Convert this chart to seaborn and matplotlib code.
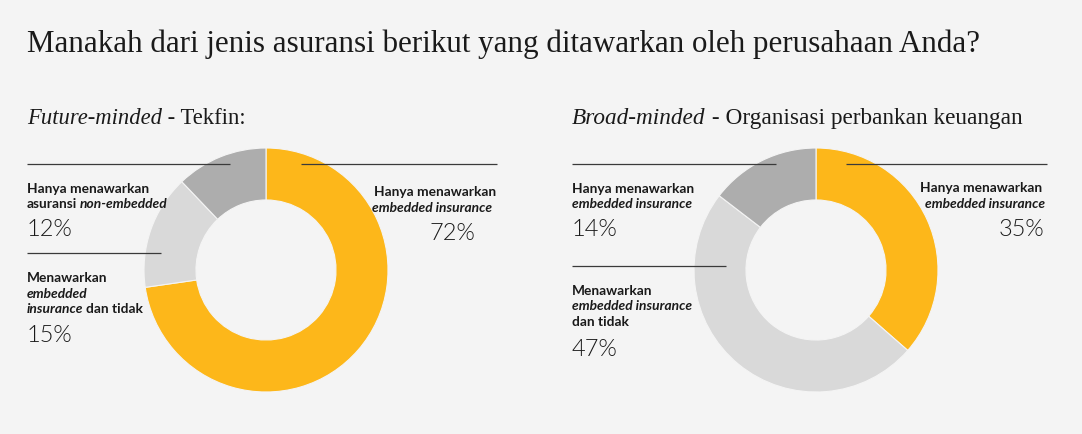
import matplotlib
matplotlib.use("Agg")
import matplotlib.pyplot as plt
import seaborn as sns

# ---- data ----
title = "Manakah dari jenis asuransi berikut yang ditawarkan oleh perusahaan Anda?"
left_sub_italic = "Future-minded"
left_sub_rest = " - Tekfin:"
right_sub_italic = "Broad-minded"
right_sub_rest = " - Organisasi perbankan keuangan"

categories = ["Hanya menawarkan embedded insurance",
              "Menawarkan embedded insurance dan tidak",
              "Hanya menawarkan asuransi non-embedded"]
left_values = [72, 15, 12]
right_values = [35, 47, 14]
left_pct = ["72%", "15%", "12%"]
right_pct = ["35%", "47%", "14%"]

BG = "#F4F4F4"
colors = ["#FDB71A", "#D9D9D9", "#ADADAD"]
TXT = "#1A1A1A"
LINE = "#3A3A3A"

W, H = 1082, 434
sns.set_theme(style="white", rc={"figure.facecolor": BG, "axes.facecolor": BG,
                                  "savefig.facecolor": BG})
SERIF = ["Liberation Serif", "DejaVu Serif"]
SANS = ["Lato", "DejaVu Sans"]

fig = plt.figure(figsize=(W / 100, H / 100), dpi=100)


def donut(cx, cy, r, values):
    ra = r * 1.02
    ax = fig.add_axes([(cx - ra) / W, (H - cy - ra) / H, 2 * ra / W, 2 * ra / H])
    ax.pie(values, colors=colors, startangle=90, counterclock=False,
           wedgeprops=dict(width=0.426, edgecolor=BG, linewidth=0.8))
    ax.set_xlim(-1.02, 1.02)
    ax.set_ylim(-1.02, 1.02)
    ax.set_axis_off()
    return ax


donut(266, 270, 122, left_values)
donut(816, 270, 122, right_values)

ov = fig.add_axes([0, 0, 1, 1])
ov.patch.set_alpha(0)
ov.set_xlim(0, W)
ov.set_ylim(H, 0)
ov.set_axis_off()

renderer = fig.canvas.get_renderer()


def mixed(x, y, parts, **kw):
    texts = []
    for part in parts:
        s, style = part[0], part[1]
        gap = part[2] if len(part) > 2 else 0
        x += gap
        t = ov.text(x, y, s, fontstyle=style, va="baseline", ha="left", **kw)
        bb = t.get_window_extent(renderer)
        x = ov.transData.inverted().transform((bb.x1, bb.y0))[0]
        texts.append(t)
    return texts


def fit_mixed(x, y, parts, width, size0, **kw):
    texts = mixed(x, y, parts, fontsize=size0, **kw)
    x1 = texts[-1].get_window_extent(renderer).x1
    size = size0 * width / (x1 - x)
    for t in texts:
        t.remove()
    return mixed(x, y, parts, fontsize=size, **kw)


def hline(x0, x1, y):
    ov.plot([x0, x1], [y, y], color=LINE, lw=0.9, solid_capstyle="butt")


# title & subtitles
fit_mixed(27, 52, [(title, "normal")], 950, 22, family=SERIF, color=TXT)
fit_mixed(27, 124, [(left_sub_italic, "italic"), (left_sub_rest, "normal")], 219, 15,
          family=SERIF, color=TXT)
fit_mixed(572, 124, [(right_sub_italic, "italic"), (right_sub_rest, "normal")], 453, 15,
          family=SERIF, color=TXT)

LAB = dict(family=SANS, fontsize=9.9, fontweight="bold", color=TXT)
PCT = dict(family=SANS, fontsize=17, fontweight=300, color=TXT)

# ---- left donut annotations ----
hline(27, 230, 164)
mixed(27, 193, [("Hanya menawarkan", "normal")], **LAB)
mixed(27, 208.5, [("asuransi", "normal"), ("non-embedded", "italic", 2.2)], **LAB)
ov.text(27, 236.5, left_pct[2], va="baseline", ha="left", **PCT)

hline(27, 161, 252.5)
mixed(27, 282.5, [("Menawarkan", "normal")], **LAB)
mixed(27, 297.5, [("embedded", "italic")], **LAB)
mixed(27, 313, [("insurance", "italic"), ("dan tidak", "normal", 2.2)], **LAB)
ov.text(27, 342.5, left_pct[1], va="baseline", ha="left", **PCT)

hline(301, 497, 164)
ov.text(496, 196.5, "Hanya menawarkan", va="baseline", ha="right", **LAB)
ov.text(492, 212.5, "embedded insurance", va="baseline", ha="right", style="italic", **LAB)
ov.text(475, 240.5, left_pct[0], va="baseline", ha="right", **PCT)

# ---- right donut annotations ----
hline(572, 776, 164)
mixed(572, 193, [("Hanya menawarkan", "normal")], **LAB)
mixed(572, 208.5, [("embedded insurance", "italic")], **LAB)
ov.text(572, 236, right_pct[2], va="baseline", ha="left", **PCT)

hline(572, 726, 266)
mixed(572, 295, [("Menawarkan", "normal")], **LAB)
mixed(572, 310.5, [("embedded insurance", "italic")], **LAB)
mixed(572, 326, [("dan tidak", "normal")], **LAB)
ov.text(572, 356, right_pct[1], va="baseline", ha="left", **PCT)

hline(846, 1047, 164)
ov.text(1042, 192.5, "Hanya menawarkan", va="baseline", ha="right", **LAB)
ov.text(1045, 208.5, "embedded insurance", va="baseline", ha="right", style="italic", **LAB)
ov.text(1044, 236, right_pct[0], va="baseline", ha="right", **PCT)

fig.savefig("out.png", dpi=100)
